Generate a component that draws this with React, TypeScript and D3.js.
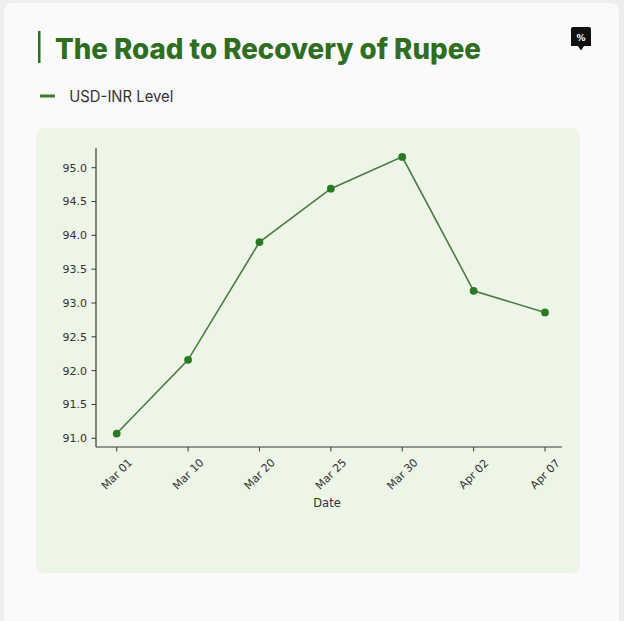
import React from "react";
import * as d3 from "d3";

const categories = ["Mar 01", "Mar 10", "Mar 20", "Mar 25", "Mar 30", "Apr 02", "Apr 07"];
const usdInr = [91.07, 92.16, 93.9, 94.69, 95.16, 93.18, 92.86];
const yTicks = [91.0, 91.5, 92.0, 92.5, 93.0, 93.5, 94.0, 94.5, 95.0];
const titleText = "The Road to Recovery of Rupee";
const legendLabel = "USD-INR Level";
const xLabel = "Date";

const W = 624;
const H = 621;

export default function App() {
  const x = d3
    .scaleLinear()
    .domain([0, categories.length - 1])
    .range([116.7, 545]);
  const y = d3.scaleLinear().domain([91, 95]).range([438.3, 167.7]);

  const axLeft = 96;
  const axRight = 562;
  const axTop = 148;
  const axBottom = 447;

  const line = d3
    .line<number>()
    .x((_, i) => x(i))
    .y((d) => y(d));

  const tickFont = "'DejaVu Sans', sans-serif";
  const axisColor = "#3a3a3a";

  return (
    <svg
      width={W}
      height={H}
      style={{ position: "absolute", left: 0, top: 0, display: "block" }}
    >
      <rect x={0} y={0} width={W} height={H} fill="#eeeeee" />
      <rect x={4} y={3} width={615} height={650} rx={8} fill="#fafafa" />
      <rect x={36} y={128} width={544} height={445} rx={8} fill="#edf5e6" />

      {/* title */}
      <rect x={38} y={31} width={2.5} height={32} fill="#2f6e1f" />
      <text
        x={55}
        y={59.3}
        fontFamily="Inter, sans-serif"
        fontWeight={800}
        fontSize={28}
        fill="#2f6e1f"
        textLength={426}
        lengthAdjust="spacingAndGlyphs"
      >
        {titleText}
      </text>

      {/* logo */}
      <path
        d="M571,29 Q571,27 573,27 L589,27 Q591,27 591,29 L591,46 L584,46 L581,50.5 L578,46 L571,46 Z"
        fill="#111"
      />
      <text
        x={581}
        y={40.5}
        textAnchor="middle"
        fontFamily="'DejaVu Sans', sans-serif"
        fontWeight={700}
        fontSize={9}
        fill="#fff"
      >
        %
      </text>

      {/* legend */}
      <line x1={40} x2={55} y1={96} y2={96} stroke="#3c7a2c" strokeWidth={3} />
      <text
        x={69.3}
        y={101.7}
        fontFamily="Inter, sans-serif"
        fontSize={15.5}
        fill="#333"
        textLength={104}
        lengthAdjust="spacingAndGlyphs"
      >
        {legendLabel}
      </text>

      {/* axes */}
      <line x1={axLeft} x2={axLeft} y1={axTop} y2={axBottom} stroke={axisColor} strokeWidth={1.2} />
      <line x1={axLeft} x2={axRight} y1={axBottom} y2={axBottom} stroke={axisColor} strokeWidth={1.2} />

      {yTicks.map((t) => (
        <g key={t}>
          <line x1={axLeft - 4.5} x2={axLeft} y1={y(t)} y2={y(t)} stroke={axisColor} strokeWidth={1} />
          <text
            x={axLeft - 9}
            y={y(t)}
            dy="0.35em"
            textAnchor="end"
            fontFamily={tickFont}
            fontSize={11}
            fill="#333"
          >
            {d3.format(".1f")(t)}
          </text>
        </g>
      ))}

      {categories.map((c, i) => (
        <g key={c}>
          <line
            x1={x(i)}
            x2={x(i)}
            y1={axBottom}
            y2={axBottom + 4.5}
            stroke={axisColor}
            strokeWidth={1}
          />
          <text
            transform={`translate(${x(i)},${474}) rotate(-45)`}
            textAnchor="middle"
            dy="0.35em"
            fontFamily={tickFont}
            fontSize={11}
            fill="#333"
          >
            {c}
          </text>
        </g>
      ))}

      <text
        x={(axLeft + axRight) / 2 - 2}
        y={506.7}
        textAnchor="middle"
        fontFamily={tickFont}
        fontSize={11.5}
        fill="#333"
      >
        {xLabel}
      </text>

      {/* series */}
      <path d={line(usdInr) || ""} fill="none" stroke="#4d7a42" strokeWidth={1.6} />
      {usdInr.map((v, i) => (
        <circle key={i} cx={x(i)} cy={y(v)} r={3.9} fill="#2a7a25" />
      ))}
    </svg>
  );
}
